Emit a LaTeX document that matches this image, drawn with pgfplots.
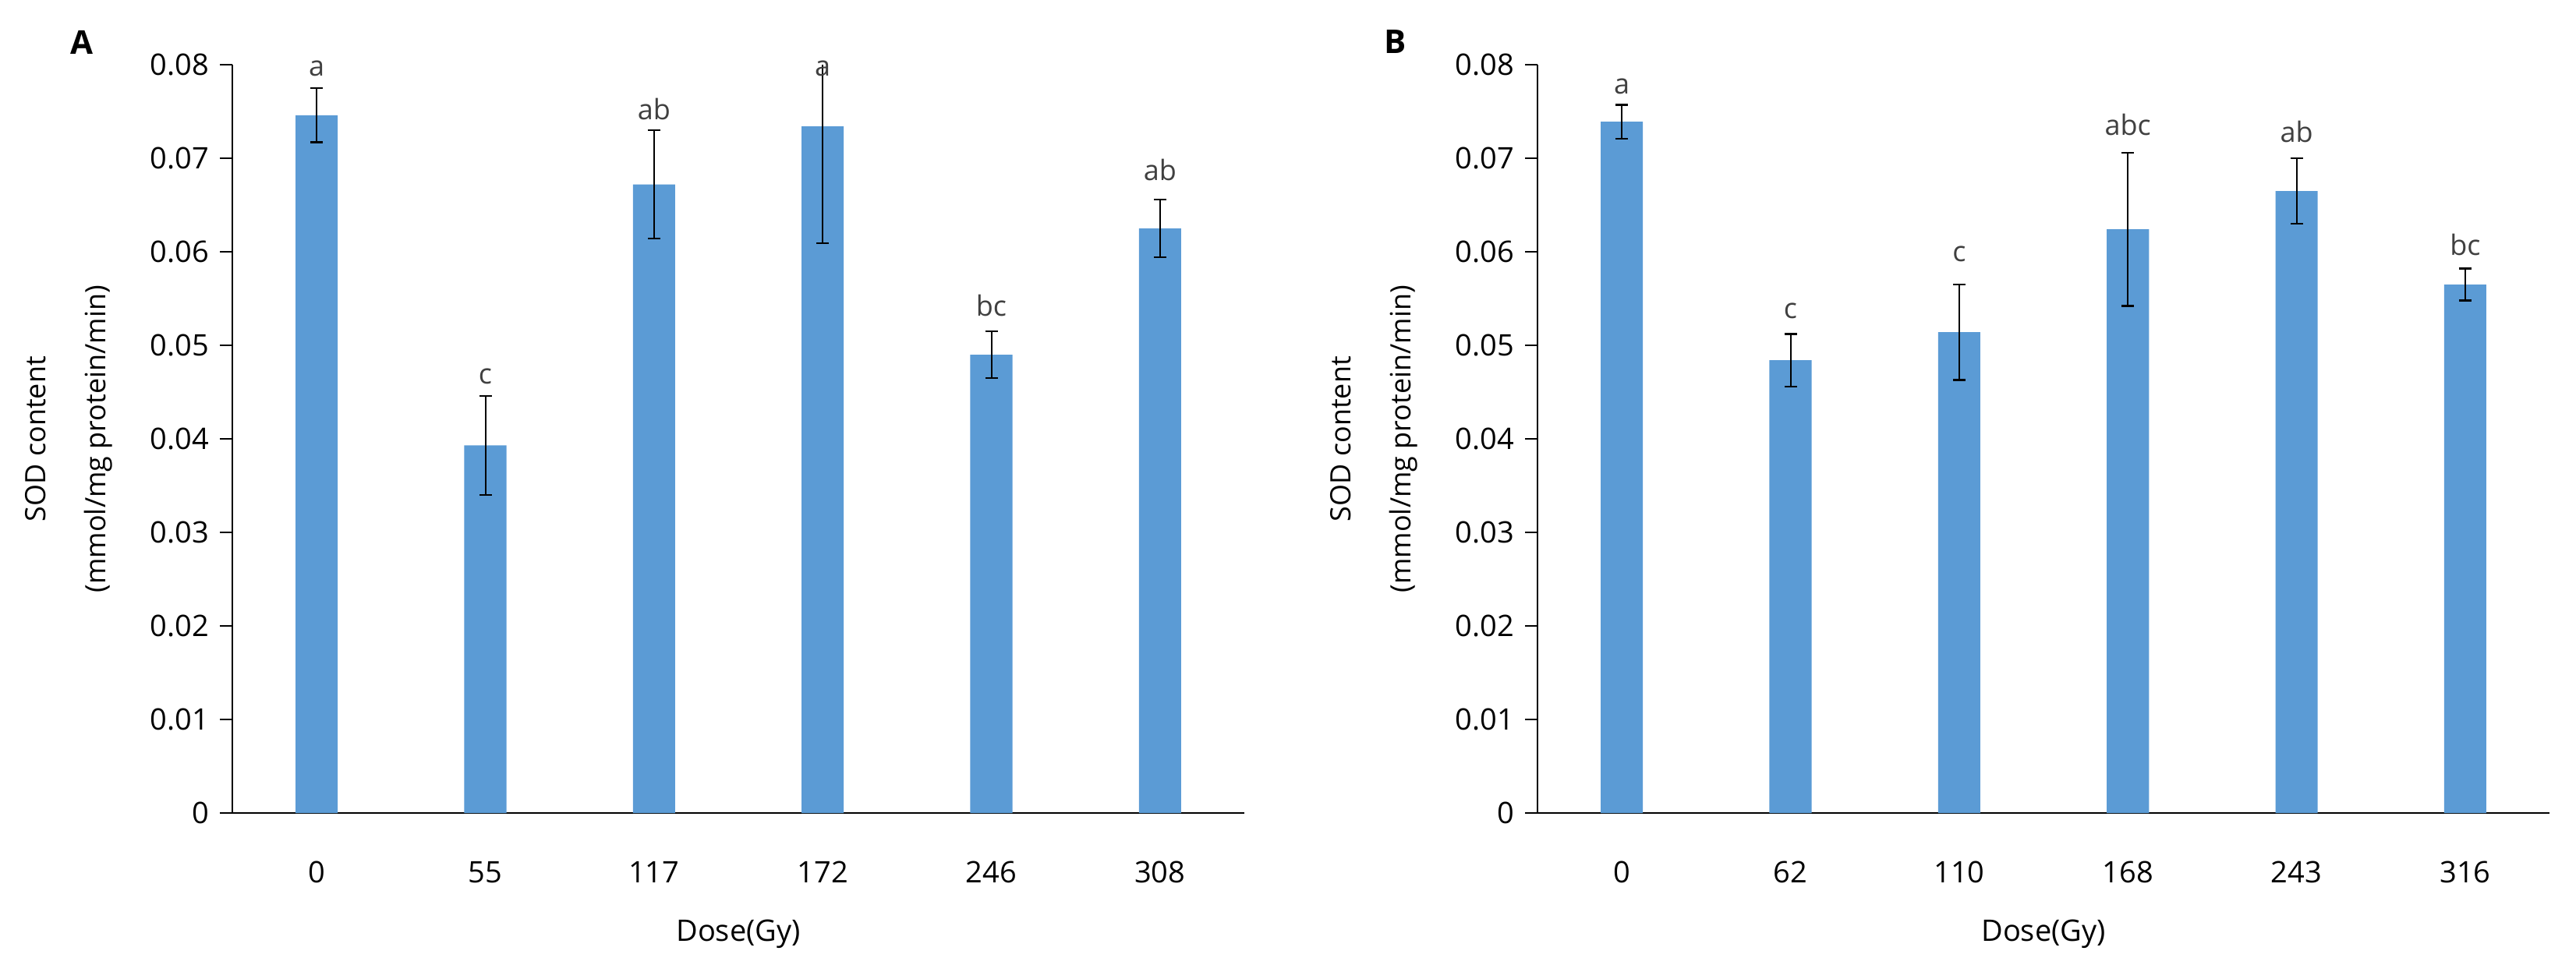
\documentclass[border=0pt]{standalone}
\usepackage{pgfplots}
\pgfplotsset{compat=1.18}
\usepackage{fontspec}
\setmainfont{Open Sans}
\definecolor{barblue}{HTML}{5B9BD5}
\definecolor{lettergray}{HTML}{404040}
\pgfplotsset{
  sodaxis/.style={
    scale only axis, width=324.5pt, height=240pt,
    xmin=-0.5, xmax=5.5, ymin=0, ymax=0.08,
    axis lines=left, axis line style={-, black, line width=0.5pt},
    xtick={0,1,2,3,4,5}, xtick style={draw=none},
    ytick={0,0.01,0.02,0.03,0.04,0.05,0.06,0.07,0.08},
    yticklabels={0,0.01,0.02,0.03,0.04,0.05,0.06,0.07,0.08},
    scaled y ticks=false,
    tick align=outside, major tick length=4pt,
    ytick style={black, line width=0.5pt},
    tick label style={font=\fontsize{9.5}{11}\selectfont},
    xticklabel style={yshift=-8pt},
    /pgf/number format/assume math mode=true,
    xlabel={Dose(Gy)},
    xlabel style={font=\fontsize{9.5}{11}\selectfont, at={(axis description cs:0.5,0)}, anchor=north, yshift=-30.6pt},
    ylabel={SOD content\\(mmol/mg protein/min)},
    ylabel style={font=\fontsize{9}{19.3}\selectfont, align=center, at={(axis description cs:-0.1618,0.5)}, anchor=center, rotate=0},
  },
  sodbars/.style={ybar, bar shift=0pt, bar width=0.25, fill=barblue, draw=none,
    error bars/.cd, y dir=both, y explicit,
    error bar style={black, line width=0.5pt},
    error mark options={black, line width=0.6pt, mark size=2pt, rotate=90}},
  sodletters/.style={draw=none, mark=none, nodes near coords, point meta=explicit symbolic,
    nodes near coords style={anchor=base, text=lettergray, font=\fontsize{9}{11}\selectfont}},
}
\begin{document}
\begin{tikzpicture}
\useasboundingbox (0,0) rectangle (826pt,311.5pt);
% Panel A
\begin{axis}[sodaxis, at={(74.5pt,50.75pt)}, anchor=south west,
  xticklabels={0,55,117,172,246,308}]
\addplot[sodbars] coordinates {
  (0,0.0746) +- (0,0.0029)
  (1,0.0393) +- (0,0.0053)
  (2,0.0672) +- (0,0.0058)
  (3,0.0734) +- (0,0.0125)
  (4,0.0490) +- (0,0.0025)
  (5,0.0625) +- (0,0.0031)
};
\addplot[sodletters] coordinates {
  (0,0.0788) [a]
  (1,0.0459) [c]
  (2,0.0741) [ab]
  (3,0.0788) [a]
  (4,0.0531) [bc]
  (5,0.0676) [ab]
};
\end{axis}
% Panel B
\begin{axis}[sodaxis, at={(493pt,50.75pt)}, anchor=south west,
  xticklabels={0,62,110,168,243,316}]
\addplot[sodbars] coordinates {
  (0,0.0739) +- (0,0.0018)
  (1,0.0484) +- (0,0.0028)
  (2,0.0514) +- (0,0.0051)
  (3,0.0624) +- (0,0.0082)
  (4,0.0665) +- (0,0.0035)
  (5,0.0565) +- (0,0.0017)
};
\addplot[sodletters] coordinates {
  (0,0.0769) [a]
  (1,0.0529) [c]
  (2,0.0590) [c]
  (3,0.0725) [abc]
  (4,0.0717) [ab]
  (5,0.0596) [bc]
};
\end{axis}
\node[font=\fontsize{10.5}{12}\selectfont\bfseries] at (26.25pt,298pt) {A};
\node[font=\fontsize{10.5}{12}\selectfont\bfseries] at (447.5pt,298pt) {B};
\end{tikzpicture}
\end{document}
